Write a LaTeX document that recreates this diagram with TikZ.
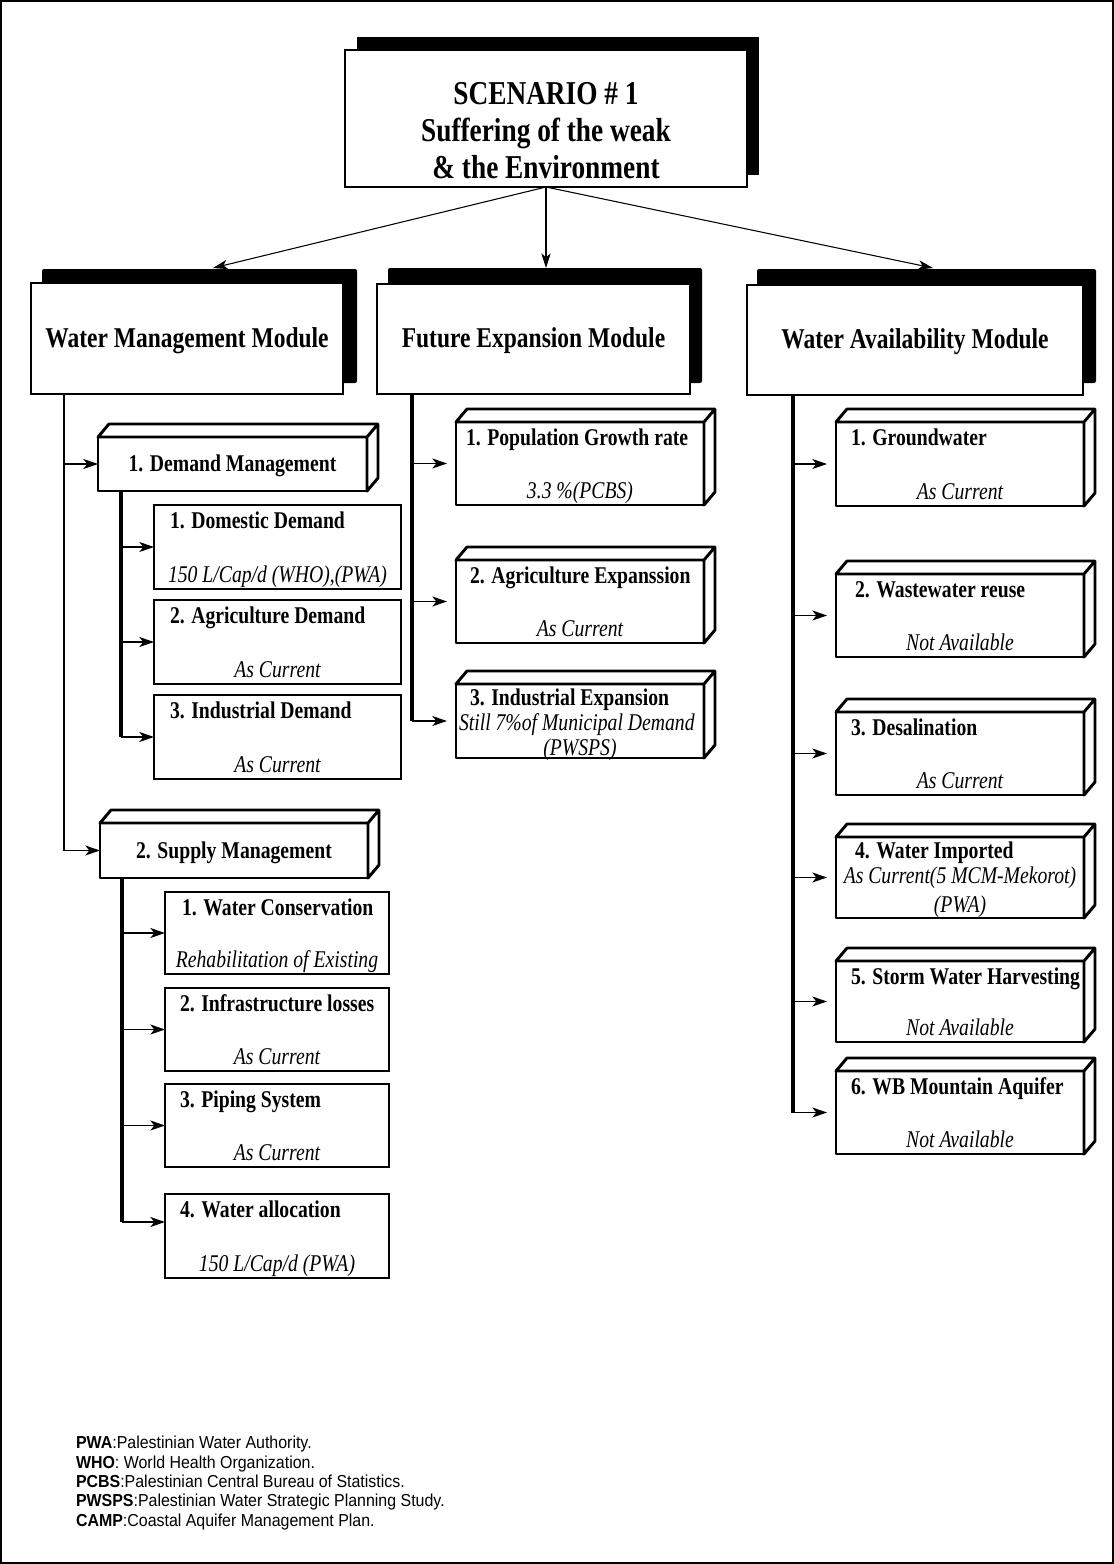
\documentclass[tikz,border=0pt]{standalone}
\usepackage{fontspec}
\setmainfont{Liberation Serif}[FakeStretch=0.82]
\newfontfamily\legfont{Liberation Sans}[FakeStretch=0.92]
\usetikzlibrary{arrows.meta,calc,fit}

\tikzset{
  every node/.style={inner sep=0pt, outer sep=0pt},
  topbox/.style={draw, fill=white, line width=0.9pt},
  toptext/.style={align=center, font=\bfseries\fontsize{25}{28}\selectfont},
  modbox/.style={draw, fill=white, line width=2.2pt},
  modtext/.style={font=\bfseries\fontsize{21.5}{24}\selectfont},
  shadowbox/.style={fill=black, rounded corners=1.5pt},
  cubebox/.style={draw, fill=white, line width=2.2pt, line join=round},
  flatbox/.style={draw, fill=white, line width=1.6pt},
  ttl/.style={font=\bfseries\fontsize{18}{20}\selectfont, anchor=base west},
  ctl/.style={font=\bfseries\fontsize{18}{20}\selectfont},
  sub/.style={font=\itshape\fontsize{18}{20}\selectfont, anchor=base},
  arr/.style={line width=1.1pt, -{Stealth[length=11pt,width=7.5pt,inset=3pt]}},
  garr/.style={arr, shorten >=6.75pt},
  toparr/.style={line width=0.8pt, -{Stealth[length=11pt,width=7pt,inset=3pt]}},
  thintrunk/.style={line width=1.5pt},
  trunk/.style={line width=2.4pt},
}

% name, x1, y1, x2, y2, content
\newcommand\mycube[6]{%
  \node[cubebox, fit={(#2,#3)(#4,#5)}] (#1) {};
  #6
  \draw[cubebox] (#1.north west) -- ++(11,-13) -- ($(#1.north east)+(11,-13)$)
    -- ($(#1.south east)+(11,-13)$) -- (#1.south east) -- (#1.north east) -- cycle
    (#1.north east) -- ++(11,-13);
}
% name, x1, y1, x2, y2
\newcommand\myflat[5]{%
  \node[flatbox, fit={(#2,#3)(#4,#5)}] (#1) {};
}
% name, inset, title, subtitle
\newcommand\boxtext[4]{%
  \node[ttl] (#1-t) at ($(#1.north west)+(#2,23)$) {#3};
  \node[sub] (#1-s) at ($(#1.south)+(0,-7)$) {#4};
}

\begin{document}
\begin{tikzpicture}[x=0.75pt,y=-0.75pt]
\useasboundingbox (0,0) rectangle (1114,1564);
\draw[line width=0.8pt] (1,1) rectangle (1113,1563);

% ---------- top box ----------
\node[fill=black, fit={(357,37)(759,175)}] (tops) {};
\node[topbox, fit={(345,50)(747,187)}] (top) {};
\node[toptext] (top-t) at ($(top.center)+(0,12)$) {SCENARIO \# 1\\Suffering of the weak\\\& the Environment};

% ---------- modules ----------
\node[shadowbox, fit={(42,269)(357,383)}] (wmms) {};
\node[modbox, fit={(31,283)(343,394)}] (wmm) {};
\node[modtext] (wmm-t) at ($(wmm.center)+(0,2)$) {Water Management Module};
\node[shadowbox, fit={(388,268)(702,383)}] (fems) {};
\node[modbox, fit={(377,284)(690,394)}] (fem) {};
\node[modtext] (fem-t) at ($(fem.center)+(0,2)$) {Future Expansion Module};
\node[shadowbox, fit={(757,269)(1096,383)}] (wams) {};
\node[modbox, fit={(747,285)(1083,395)}] (wam) {};
\node[modtext] (wam-t) at ($(wam.center)+(0,2)$) {Water Availability Module};

\coordinate (tl) at (213,268);
\coordinate (tm) at (546,268);
\coordinate (tr) at (933,268);
\draw[toparr] (top.south) -- (tl);
\draw[toparr] (top.south) -- (tm);
\draw[toparr] (top.south) -- (tr);

% ---------- left column ----------
\mycube{dem}{98}{437}{367}{491}{\node[ctl] (dem-t) at ($(dem.center)+(0,2)$) {1. Demand Management};}
\mycube{sup}{100}{823}{368}{878}{\node[ctl] (sup-t) at ($(sup.center)+(0,2)$) {2. Supply Management};}

\coordinate (lt) at ($(wmm.south west)+(33,0)$);
\draw[thintrunk] (lt) -- (lt |- sup.west);
\draw[arr] (lt |- dem.west) -- (dem.west);
\draw[arr] (lt |- sup.west) -- (sup.west);

\myflat{dom}{154}{505}{401}{589}
\boxtext{dom}{16}{1. Domestic Demand}{150 L/Cap/d (WHO),(PWA)}
\myflat{agr}{154}{600}{401}{684}
\boxtext{agr}{16}{2. Agriculture Demand}{As Current}
\myflat{ind}{154}{695}{401}{779}
\boxtext{ind}{16}{3. Industrial Demand}{As Current}

\coordinate (dt) at ($(dem.south west)+(23,0)$);
\draw[trunk] (dt) -- (dt |- ind.west);
\draw[arr] (dt |- dom.west) -- (dom.west);
\draw[arr] (dt |- agr.west) -- (agr.west);
\draw[arr] (dt |- ind.west) -- (ind.west);

\myflat{wc}{165}{892}{389}{974}
\boxtext{wc}{17}{1. Water Conservation}{Rehabilitation of Existing}
\myflat{inf}{165}{988}{389}{1071}
\boxtext{inf}{15}{2. Infrastructure losses}{As Current}
\myflat{pip}{165}{1084}{389}{1167}
\boxtext{pip}{15}{3. Piping System}{As Current}
\myflat{wal}{165}{1194}{389}{1278}
\boxtext{wal}{15}{4. Water allocation}{150 L/Cap/d (PWA)}

\coordinate (st) at ($(sup.south west)+(22,0)$);
\coordinate (walin) at ($(wal.west)+(0,-14)$);
\draw[trunk] (st) -- (st |- walin);
\draw[arr] (st |- wc.west) -- (wc.west);
\draw[arr] (st |- inf.west) -- (inf.west);
\draw[arr] (st |- pip.west) -- (pip.west);
\draw[arr] (st |- walin) -- (walin);

% ---------- middle column ----------
\mycube{pop}{456}{422}{704}{505}{\boxtext{pop}{10}{1. Population Growth rate}{3.3 \%(PCBS)}}
\mycube{aex}{456}{560}{704}{643}{\boxtext{aex}{14}{2. Agriculture Expanssion}{As Current}}
\mycube{iex}{456}{684}{704}{758}{%
  \node[ttl] (iex-t) at (470,705) {3. Industrial Expansion};
  \node[sub, anchor=base west] (iex-s) at (459,730) {Still 7\%of Municipal Demand};
  \node[sub] (iex-s2) at (580,755) {(PWSPS)};}

\coordinate (mt) at ($(fem.south west)+(35,0)$);
\draw[trunk] (mt) -- (mt |- iex.west);
\draw[garr] (mt |- pop.west) -- (pop.west);
\draw[garr] (mt |- aex.west) -- (aex.west);
\draw[garr] (mt |- iex.west) -- (iex.west);

% ---------- right column ----------
\mycube{gw}{836}{422}{1084}{506}{\boxtext{gw}{15}{1. Groundwater}{As Current}}
\mycube{ww}{836}{574}{1084}{657}{\boxtext{ww}{19}{2. Wastewater reuse}{Not Available}}
\mycube{des}{836}{712}{1084}{795}{\boxtext{des}{15}{3. Desalination}{As Current}}
\mycube{wi}{836}{837}{1084}{918}{%
  \node[ttl] (wi-t) at (855,858) {4. Water Imported};
  \node[sub] (wi-s) at (960,883) {As Current(5 MCM-Mekorot)};
  \node[sub] (wi-s2) at (960,912) {(PWA)};}
\mycube{sw}{836}{961}{1084}{1042}{\boxtext{sw}{15}{5. Storm Water Harvesting}{Not Available}}
\mycube{wb}{836}{1071}{1084}{1154}{\boxtext{wb}{15}{6. WB Mountain Aquifer}{Not Available}}

\coordinate (rt) at ($(wam.south west)+(46,0)$);
\draw[trunk] (rt) -- (rt |- wb.west);
\foreach \b in {gw,ww,des,wi,sw,wb}
  \draw[garr] (rt |- \b.west) -- (\b.west);

% ---------- legend ----------
\node[anchor=north west, align=left, font=\legfont\fontsize{13}{14.6}\selectfont] (legend) at (76,1436)
  {\textbf{PWA}:Palestinian Water Authority.\\
   \textbf{WHO}: World Health Organization.\\
   \textbf{PCBS}:Palestinian Central Bureau of Statistics.\\
   \textbf{PWSPS}:Palestinian Water Strategic Planning Study.\\
   \textbf{CAMP}:Coastal Aquifer Management Plan.};
\end{tikzpicture}
\end{document}
